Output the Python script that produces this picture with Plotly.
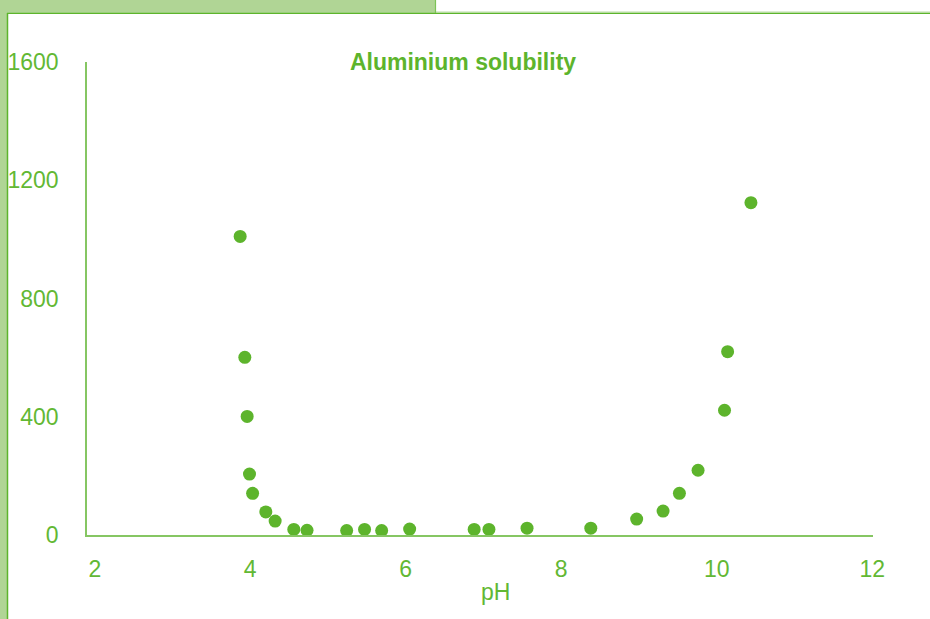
import plotly.graph_objects as go

# ─── DADOS ────────────────────────────────────────────
ph = [3.87, 3.93, 3.96, 3.99, 4.03, 4.20, 4.32, 4.56, 4.73, 5.24, 5.47, 5.69,
      6.05, 6.88, 7.07, 7.56, 8.38, 8.97, 9.31, 9.52, 9.76, 10.10, 10.14, 10.44]
aluminio = [1010, 601, 401, 206, 141, 78, 47, 19, 16, 15, 19, 15,
            20, 19, 19, 23, 23, 54, 81, 141, 219, 422, 620, 1124]

x_ticks = [2, 4, 6, 8, 10, 12]
y_ticks = [0, 400, 800, 1200, 1600]

# ─── CORES ────────────────────────────────────────────
VERDE = "#5DB42C"
VERDE_TEXTO = "#62B834"
VERDE_EIXO = "#86C663"
VERDE_CLARO = "#B0D595"

W, H = 930, 619
L, R, T, B = 87, 873, 62, 535   # área do gráfico em pixels


def px_x(px):
    return (px - L) / (R - L)


def px_y(py):
    return (B - py) / (B - T)


fig = go.Figure()
fig.add_trace(go.Scatter(
    x=ph,
    y=aluminio,
    mode="markers",
    marker=dict(size=13, color=VERDE),
    hovertemplate="pH %{x}<br>%{y}<extra></extra>",
))

# moldura verde (faixa esquerda e aba superior)
shapes = [
    dict(type="rect", xref="paper", yref="paper",
         x0=px_x(0), x1=px_x(7), y0=px_y(H), y1=px_y(0),
         fillcolor=VERDE_CLARO, line=dict(width=0), layer="below"),
    dict(type="rect", xref="paper", yref="paper",
         x0=px_x(0), x1=px_x(435), y0=px_y(12.5), y1=px_y(0),
         fillcolor=VERDE_CLARO, line=dict(width=0), layer="below"),
    dict(type="line", xref="paper", yref="paper",
         x0=px_x(7.5), x1=px_x(7.5), y0=px_y(H), y1=px_y(13),
         line=dict(color=VERDE, width=1.5)),
    dict(type="line", xref="paper", yref="paper",
         x0=px_x(7), x1=px_x(W), y0=px_y(13.3), y1=px_y(13.3),
         line=dict(color=VERDE, width=1.5)),
    dict(type="line", xref="paper", yref="paper",
         x0=px_x(435), x1=px_x(W), y0=px_y(11.8), y1=px_y(11.8),
         line=dict(color="#CFE6C0", width=1)),
    dict(type="line", xref="paper", yref="paper",
         x0=px_x(435.5), x1=px_x(435.5), y0=px_y(13), y1=px_y(0),
         line=dict(color="#7CC356", width=1.2)),
]

fig.update_layout(
    width=W,
    height=H,
    paper_bgcolor="#FFFFFF",
    plot_bgcolor="#FFFFFF",
    font=dict(family="Liberation Sans, Arial, sans-serif", color=VERDE_TEXTO, size=23),
    margin=dict(l=L, r=W - R, t=T, b=H - B, pad=0, autoexpand=False),
    showlegend=False,
    title=dict(
        text="<b>Aluminium solubility</b>",
        font=dict(size=23, color=VERDE),
        xref="paper", x=px_x(463), xanchor="center",
        yref="paper", y=px_y(62), yanchor="middle",
        automargin=False,
    ),
    xaxis=dict(
        range=[1.9, 12.01],
        tickvals=x_ticks,
        showgrid=False,
        zeroline=False,
        showline=True,
        linecolor=VERDE_EIXO,
        linewidth=1.5,
        ticks="",
        ticklabelstandoff=13,
        automargin=False,
    ),
    yaxis=dict(
        range=[0, 1600],
        tickvals=y_ticks,
        showgrid=False,
        zeroline=False,
        showline=True,
        linecolor=VERDE_EIXO,
        linewidth=1.5,
        ticks="",
        ticklabelstandoff=22,
        automargin=False,
    ),
    annotations=[dict(
        text="pH", xref="paper", yref="paper",
        x=px_x(495), y=px_y(592), xanchor="center", yanchor="middle",
        showarrow=False, font=dict(size=23, color=VERDE_TEXTO),
    )],
    shapes=shapes,
)

# tira a margem padrão da página para o gráfico ocupar a janela inteira
fig.write_html(
    "out.html",
    config={"displayModeBar": False},
    post_script="document.body.style.margin='0';document.body.style.overflow='hidden';",
)
